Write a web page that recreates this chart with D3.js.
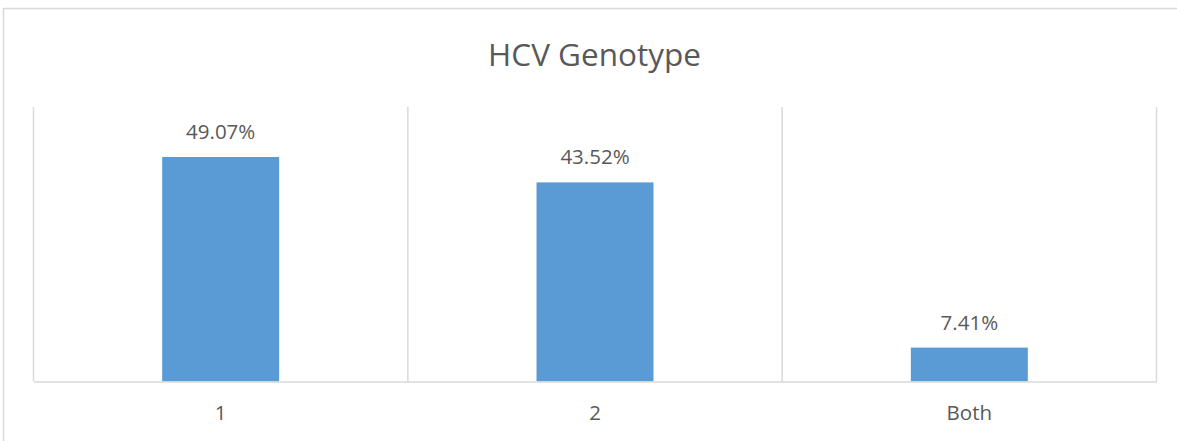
<!DOCTYPE html>
<html lang="en">
<head>
<meta charset="UTF-8">
<title>HCV Genotype</title>
<script src="https://d3js.org/d3.v7.min.js"></script>
<style>
  body { margin: 0; background: #fff; }
  svg text { font-family: "Open Sans", sans-serif; fill: #595959; }
</style>
</head>
<body>
<svg id="chart" width="1177" height="441"></svg>
<script>
// data
const categories = ['1', '2', 'Both'];
const shares = [49.07, 43.52, 7.41];
const yDomain = [0, 60];

const svg = d3.select('#chart');
const plotLeft = 33.5, plotRight = 1156.5, plotTop = 107, plotBottom = 381.5;

// outer chart border (runs off the right and bottom edges)
svg.append('rect')
    .attr('x', 3.5).attr('y', 8.5)
    .attr('width', 1183).attr('height', 450)
    .attr('fill', 'none')
    .attr('stroke', '#d9d9d9')
    .attr('stroke-width', 1.5);

svg.append('text')
    .attr('x', 594.5)
    .attr('y', 66)
    .attr('text-anchor', 'middle')
    .style('font-size', '31.5px')
    .text('HCV Genotype');

const x = d3.scaleBand().domain(categories).range([plotLeft, plotRight]).padding(0);
const y = d3.scaleLinear().domain(yDomain).range([plotBottom, plotTop]);

// category dividers
const bounds = categories.map(c => x(c)).concat([plotRight]);
svg.append('g').selectAll('line')
    .data(bounds)
    .join('line')
    .attr('x1', d => d).attr('x2', d => d)
    .attr('y1', plotTop).attr('y2', plotBottom)
    .attr('stroke', '#d9d9d9')
    .attr('stroke-width', 1.5);

const barW = x.bandwidth() * 0.3125;
const data = categories.map((c, i) => ({ cat: c, v: shares[i] }));

svg.append('g').selectAll('rect')
    .data(data)
    .join('rect')
    .attr('x', d => x(d.cat) + (x.bandwidth() - barW) / 2)
    .attr('y', d => y(d.v))
    .attr('width', barW)
    .attr('height', d => y(0) - y(d.v))
    .attr('fill', '#5b9bd5');

svg.append('g').selectAll('text')
    .data(data)
    .join('text')
    .attr('x', d => x(d.cat) + x.bandwidth() / 2)
    .attr('y', d => y(d.v) - 18)
    .attr('text-anchor', 'middle')
    .style('font-size', '20.5px')
    .text(d => d.v.toFixed(2) + '%');

// baseline and category labels
const xAxis = svg.append('g')
    .attr('transform', `translate(0,${plotBottom})`)
    .call(d3.axisBottom(x).tickSize(0).tickPadding(24));
xAxis.select('.domain').attr('stroke', '#d9d9d9').attr('stroke-width', 1.5);
xAxis.selectAll('text')
    .style('font-size', '20.5px')
    .style('font-family', '"Open Sans", sans-serif')
    .attr('fill', '#595959');
</script>
</body>
</html>
